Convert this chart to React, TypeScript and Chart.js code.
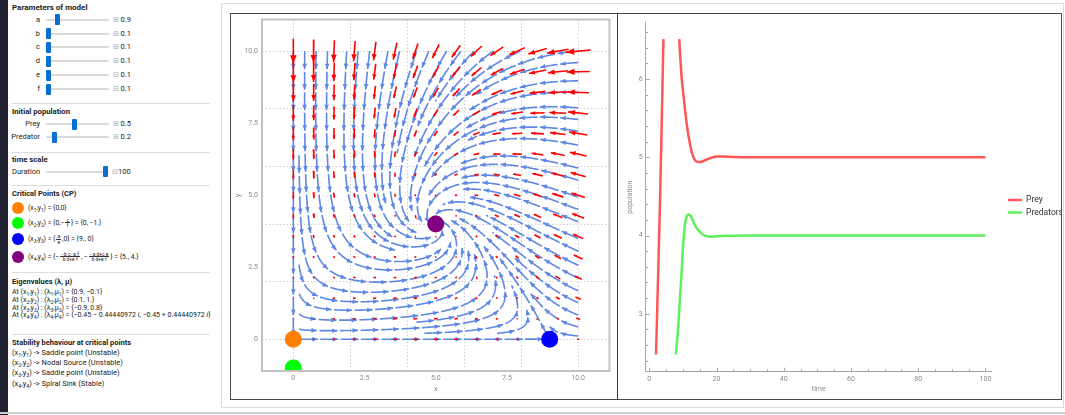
import React, { useEffect, useRef } from "react";
import { Chart, registerables } from "chart.js";
Chart.register(...registerables);

// ---------------- data ----------------
// model parameters (slider values)
const paramNames = ["a", "b", "c", "d", "e", "f"];
const paramValues = [0.9, 0.1, 0.1, 0.1, 0.1, 0.1];
const paramRange = [0.1, 5];
const populationNames = ["Prey", "Predator"];
const populationValues = [0.5, 0.2];
const populationRange = [0.1, 1];
const durationValue = 100;
const durationRange = [10, 100];

// critical points
const criticalX = [0, 0, 9, 5];
const criticalY = [0, -1, 0, 4];
const criticalColors = ["#ff8000", "#00ff00", "#0000ff", "#800080"];

// phase plot axes
const phaseMin = -1.1;
const phaseMax = 11.1;
const phaseTickValues = [0, 2.5, 5, 7.5, 10];
const phaseTickLabels = ["0", "2.5", "5.0", "7.5", "10.0"];
const phaseGridValues = [0, 2, 4, 6, 8, 10];
const vectorPointsPerSide = 15;
const vectorScale = 0.079;
const streamSeparation = 0.4;
const streamSeeds = [
  [0, 5],
  [5, 0],
  [9.6, 0],
  [5, 8],
];

// time series
const preyRiseT = [2.0, 2.6, 3.2, 3.7, 4.2];
const preyRiseY = [2.48, 3.45, 4.45, 5.45, 6.51];
const preyFallT = [8.9, 9.6, 10.1, 10.6, 11.1, 11.6, 12.1, 12.6, 13.5, 14.3, 15.2, 16.2, 17.3, 18.5, 20.0, 22.0, 25.0, 30.0, 40.0, 60.0, 80.0, 100.0];
const preyFallY = [6.51, 6.03, 5.82, 5.62, 5.44, 5.29, 5.17, 5.07, 4.97, 4.94, 4.94, 4.955, 4.975, 4.995, 5.01, 5.01, 5.005, 5.0, 5.0, 5.0, 5.0, 5.0];
const predT = [7.9, 8.6, 9.1, 9.6, 10.1, 10.6, 11.1, 11.6, 12.1, 12.6, 13.3, 14.0, 15.0, 16.0, 17.3, 18.5, 20.0, 23.0, 30.0, 50.0, 100.0];
const predY = [2.48, 2.84, 3.18, 3.52, 3.9, 4.14, 4.24, 4.27, 4.26, 4.23, 4.16, 4.1, 4.05, 4.01, 3.99, 3.985, 3.99, 3.997, 4.0, 4.0, 4.0];
const timeTickValues = [0, 20, 40, 60, 80, 100];
const timeMinorTicks = [5, 10, 15, 25, 30, 35, 45, 50, 55, 65, 70, 75, 85, 90, 95];
const popTickValues = [3, 4, 5, 6];
const popMinorTicks = [2.4, 2.6, 2.8, 3.2, 3.4, 3.6, 3.8, 4.2, 4.4, 4.6, 4.8, 5.2, 5.4, 5.6, 5.8, 6.2, 6.4, 6.6];

// ---------------- styles ----------------
const FONT = "Roboto, 'Open Sans', sans-serif";
const STREAM_COLOR = "#5f87e4";
const DASH_LEN = 18;
const DASH_GAP = 2.5;
Chart.defaults.font.family = FONT;

type P = { x: number; y: number };

function field(x: number, y: number): [number, number] {
  const [a, b, c, d, e, f] = paramValues;
  return [x * (a - e * x - b * y), y * (-c + d * x - f * y)];
}

function computeStreamlines(): P[][] {
  const X0 = 0, X1 = 10, Y0 = 0, Y1 = 10;
  const dsep = streamSeparation;
  const dtest = dsep * 0.5;
  const h = 0.025;
  const cs = dtest;
  const nx = Math.ceil((X1 - X0) / cs) + 2;
  const ny = nx;
  const buckets: number[][] = new Array(nx * ny);
  const PX: number[] = [], PY: number[] = [], PL: number[] = [], PS: number[] = [];
  const dead = new Set<number>();
  const selfGap = Math.ceil((1.6 * dtest) / h);
  const bucketOf = (x: number, y: number) => {
    const i = Math.max(0, Math.min(nx - 1, Math.floor((x - X0) / cs)));
    const j = Math.max(0, Math.min(ny - 1, Math.floor((y - Y0) / cs)));
    return [i, j];
  };
  const add = (x: number, y: number, l: number, s: number) => {
    const [i, j] = bucketOf(x, y);
    const k = j * nx + i;
    (buckets[k] || (buckets[k] = [])).push(PX.length);
    PX.push(x); PY.push(y); PL.push(l); PS.push(s);
  };
  const close = (x: number, y: number, r: number, l: number, s: number) => {
    const [i, j] = bucketOf(x, y);
    const rr = Math.ceil(r / cs);
    const r2 = r * r;
    for (let jj = j - rr; jj <= j + rr; jj++) {
      if (jj < 0 || jj >= ny) continue;
      for (let ii = i - rr; ii <= i + rr; ii++) {
        if (ii < 0 || ii >= nx) continue;
        const bk = buckets[jj * nx + ii];
        if (!bk) continue;
        for (const idx of bk) {
          const pl = PL[idx];
          if (dead.has(pl)) continue;
          if (pl === l && Math.abs(PS[idx] - s) < selfGap) continue;
          const dx = PX[idx] - x, dy = PY[idx] - y;
          if (dx * dx + dy * dy < r2) return true;
        }
      }
    }
    return false;
  };
  const dirAt = (x: number, y: number) => {
    const [u, v] = field(x, y);
    const m = Math.hypot(u, v);
    if (m < 1e-7) return null;
    return [u / m, v / m];
  };
  const inside = (x: number, y: number) => x >= X0 - 1e-9 && x <= X1 + 1e-9 && y >= Y0 - 1e-9 && y <= Y1 + 1e-9;
  const lines: (P[] | null)[] = [];
  const trace = (sx: number, sy: number, id: number): P[] => {
    const parts: P[][] = [[], []];
    add(sx, sy, id, 0);
    [1, -1].forEach((dir, pi) => {
      let x = sx, y = sy, pdx = 0, pdy = 0;
      for (let st = 1; st < 1600; st++) {
        const k1 = dirAt(x, y);
        if (!k1) break;
        const mx = x + dir * h * 0.5 * k1[0], my = y + dir * h * 0.5 * k1[1];
        const k2 = dirAt(mx, my);
        if (!k2) break;
        let nx2 = x + dir * h * k2[0], ny2 = y + dir * h * k2[1];
        const dx = nx2 - x, dy = ny2 - y;
        if (pdx * dx + pdy * dy < 0) break;
        if (!inside(nx2, ny2)) {
          let t = 1;
          if (nx2 < X0) t = Math.min(t, (X0 - x) / dx);
          if (nx2 > X1) t = Math.min(t, (X1 - x) / dx);
          if (ny2 < Y0) t = Math.min(t, (Y0 - y) / dy);
          if (ny2 > Y1) t = Math.min(t, (Y1 - y) / dy);
          if (t > 0.01) parts[pi].push({ x: x + dx * t, y: y + dy * t });
          break;
        }
        const s = dir * st;
        if (close(nx2, ny2, dtest, id, s)) break;
        parts[pi].push({ x: nx2, y: ny2 });
        add(nx2, ny2, id, s);
        pdx = dx; pdy = dy; x = nx2; y = ny2;
      }
    });
    return [...parts[1].reverse(), { x: sx, y: sy }, ...parts[0]];
  };
  const queue: P[][] = [];
  const tryLine = (sx: number, sy: number) => {
    if (!inside(sx, sy)) return;
    if (close(sx, sy, dsep * 0.98, -1, 0)) return;
    const id = lines.length;
    const pts = trace(sx, sy, id);
    let len = 0;
    for (let i = 1; i < pts.length; i++) len += Math.hypot(pts[i].x - pts[i - 1].x, pts[i].y - pts[i - 1].y);
    if (len < 0.35) {
      dead.add(id);
      lines.push(null);
      return;
    }
    lines.push(pts);
    queue.push(pts);
  };
  const flush = () => {
    while (queue.length) {
      const L = queue.shift() as P[];
      for (let i = 0; i < L.length; i += 3) {
        const p = L[i], q = L[Math.min(i + 1, L.length - 1)], r = L[Math.max(i - 1, 0)];
        let tx = q.x - r.x, ty = q.y - r.y;
        const tm = Math.hypot(tx, ty);
        if (tm === 0) continue;
        tx /= tm; ty /= tm;
        tryLine(p.x - ty * dsep, p.y + tx * dsep);
        tryLine(p.x + ty * dsep, p.y - tx * dsep);
      }
    }
  };
  streamSeeds.forEach(([sx, sy]) => { tryLine(sx, sy); flush(); });
  for (let gy = 0; gy <= 10 + 1e-9; gy += dsep / 2) {
    for (let gx = 0; gx <= 10 + 1e-9; gx += dsep / 2) {
      tryLine(gx, gy);
      flush();
    }
  }
  return lines.filter((l) => l) as P[][];
}

function computeVectors(): P[][] {
  const out: P[][] = [];
  for (let i = 0; i < vectorPointsPerSide; i++) {
    for (let j = 0; j < vectorPointsPerSide; j++) {
      const x = (i * 10) / (vectorPointsPerSide - 1);
      const y = (j * 10) / (vectorPointsPerSide - 1);
      const [u, v] = field(x, y);
      out.push([
        { x: x - (u * vectorScale) / 2, y: y - (v * vectorScale) / 2 },
        { x: x + (u * vectorScale) / 2, y: y + (v * vectorScale) / 2 },
      ]);
    }
  }
  return out;
}

function drawHead(ctx: CanvasRenderingContext2D, x: number, y: number, ux: number, uy: number, hl: number, hw: number) {
  const bx = x - ux * hl, by = y - uy * hl;
  ctx.beginPath();
  ctx.moveTo(x, y);
  ctx.lineTo(bx - uy * hw, by + ux * hw);
  ctx.lineTo(bx + uy * hw, by - ux * hw);
  ctx.closePath();
  ctx.fill();
}

const arrowPlugin = {
  id: "arrowHeads",
  afterDatasetDraw(chart: any, args: any) {
    const ds = chart.data.datasets[args.index];
    if (!ds.kind || ds.kind === "cp") return;
    const pts = args.meta.data;
    const ctx: CanvasRenderingContext2D = chart.ctx;
    const area = chart.chartArea;
    ctx.save();
    ctx.beginPath();
    ctx.rect(area.left, area.top, area.right - area.left, area.bottom - area.top);
    ctx.clip();
    ctx.fillStyle = ds.borderColor;
    if (ds.kind === "vec") {
      const p0 = pts[0], p1 = pts[1];
      const dx = p1.x - p0.x, dy = p1.y - p0.y;
      const L = Math.hypot(dx, dy);
      if (L > 3) drawHead(ctx, p1.x, p1.y, dx / L, dy / L, L * 0.34, L * 0.13);
    } else {
      const period = DASH_LEN + DASH_GAP;
      let next = DASH_LEN;
      let acc = 0;
      let lux = 0, luy = 0;
      for (let i = 1; i < pts.length; i++) {
        const a = pts[i - 1], b = pts[i];
        const seg = Math.hypot(b.x - a.x, b.y - a.y);
        if (seg === 0) continue;
        const ux = (b.x - a.x) / seg, uy = (b.y - a.y) / seg;
        lux = ux; luy = uy;
        while (acc + seg >= next) {
          const t = (next - acc) / seg;
          drawHead(ctx, a.x + (b.x - a.x) * t, a.y + (b.y - a.y) * t, ux, uy, 5.5, 2.3);
          next += period;
        }
        acc += seg;
      }
      const remaining = acc - (next - period);
      if (remaining > 7 && pts.length > 1) {
        const last = pts[pts.length - 1];
        drawHead(ctx, last.x, last.y, lux, luy, 5.5, 2.3);
      }
    }
    ctx.restore();
  },
};

const framePlugin = {
  id: "frame",
  afterDraw(chart: any) {
    const { ctx, chartArea: a } = chart;
    ctx.save();
    ctx.strokeStyle = "#c2c2c2";
    ctx.lineWidth = 2;
    ctx.strokeRect(a.left, a.top, a.right - a.left, a.bottom - a.top);
    ctx.restore();
  },
};

function PhaseChart() {
  const ref = useRef<HTMLCanvasElement>(null);
  useEffect(() => {
    const streams = computeStreamlines();
    const vecs = computeVectors();
    const datasets: any[] = [];
    datasets.push({
      kind: "cp",
      data: criticalX.map((x, i) => ({ x, y: criticalY[i] })),
      pointRadius: 8.5,
      pointHoverRadius: 8.5,
      backgroundColor: criticalColors,
      borderWidth: 0,
    });
    vecs.forEach((v) =>
      datasets.push({ kind: "vec", data: v, showLine: true, pointRadius: 0, borderColor: "#ff0000", borderWidth: 1.6 })
    );
    streams.forEach((l) =>
      datasets.push({
        kind: "stream",
        data: l,
        showLine: true,
        pointRadius: 0,
        borderColor: STREAM_COLOR,
        borderWidth: 1.6,
        borderDash: [DASH_LEN, DASH_GAP],
      })
    );
    const allTicks = [phaseMin, ...Array.from(new Set([...phaseTickValues, ...phaseGridValues])).sort((p, q) => p - q), phaseMax];
    const tickLabel = (v: any) => {
      const i = phaseTickValues.indexOf(Number(v));
      return i >= 0 ? phaseTickLabels[i] : "";
    };
    const gridColor = (c: any) => (c.tick && phaseGridValues.includes(c.tick.value) ? "#cfcfcf" : "rgba(0,0,0,0)");
    const chart = new Chart(ref.current as HTMLCanvasElement, {
      type: "scatter",
      data: { datasets },
      plugins: [arrowPlugin, framePlugin],
      options: {
        animation: false,
        responsive: false,
        events: [],
        layout: { padding: { top: 5, right: 3, left: 0, bottom: 0 } },
        plugins: { legend: { display: false }, tooltip: { enabled: false } },
        scales: {
          x: {
            type: "linear",
            min: phaseMin,
            max: phaseMax,
            afterBuildTicks: (s: any) => { s.ticks = allTicks.map((v) => ({ value: v })); },
            afterFit: (s: any) => { s.height = 27; },
            ticks: { autoSkip: false, maxRotation: 0, padding: 3, color: "#8a8a8a", font: { size: 7 }, callback: tickLabel },
            grid: { color: gridColor, lineWidth: 1, drawTicks: false },
            border: { display: false, dash: [1.5, 2] },
            title: { display: true, text: "x", color: "#8a8a8a", font: { size: 7 }, padding: { top: 0, bottom: 4.8 } },
          },
          y: {
            type: "linear",
            min: phaseMin,
            max: phaseMax,
            afterBuildTicks: (s: any) => { s.ticks = allTicks.map((v) => ({ value: v })); },
            afterFit: (s: any) => { s.width = 31; },
            ticks: { autoSkip: false, padding: 4, color: "#8a8a8a", font: { size: 7 }, callback: tickLabel },
            grid: { color: gridColor, lineWidth: 1, drawTicks: false },
            border: { display: false, dash: [1.5, 2] },
            title: { display: true, text: "y", color: "#8a8a8a", font: { size: 7 }, padding: { top: 2.8, bottom: 0 } },
          },
        },
      } as any,
    });
    return () => chart.destroy();
  }, []);
  return <canvas ref={ref} width={387} height={387} style={{ position: "absolute", left: 231, top: 11, width: 387, height: 387 }} />;
}

const axisTickPlugin = {
  id: "inwardTicks",
  afterDraw(chart: any) {
    const { ctx, chartArea: a, scales } = chart;
    ctx.save();
    ctx.strokeStyle = "#a8a8a8";
    ctx.lineWidth = 1;
    const xs = scales.x, ys = scales.y;
    const drawX = (v: number, len: number) => {
      const px = Math.round(xs.getPixelForValue(v)) + 0.5;
      ctx.beginPath(); ctx.moveTo(px, a.bottom); ctx.lineTo(px, a.bottom - len); ctx.stroke();
    };
    const drawY = (v: number, len: number) => {
      const py = Math.round(ys.getPixelForValue(v)) + 0.5;
      ctx.beginPath(); ctx.moveTo(a.left, py); ctx.lineTo(a.left + len, py); ctx.stroke();
    };
    timeTickValues.forEach((v) => drawX(v, 4));
    timeMinorTicks.forEach((v) => drawX(v, 2.5));
    popTickValues.forEach((v) => drawY(v, 4));
    popMinorTicks.forEach((v) => drawY(v, 2.5));
    ctx.restore();
  },
};

const LEGEND_OFFSET_X = 12;
const LEGEND_OFFSET_Y = -4;
const legendPlacePlugin = {
  id: "legendPlace",
  afterLayout(chart: any) {
    const lg = chart.legend;
    if (!lg) return;
    const w = lg.width;
    lg.left = chart.chartArea.right + LEGEND_OFFSET_X;
    lg.right = lg.left + w;
    lg.top += LEGEND_OFFSET_Y;
    lg.bottom += LEGEND_OFFSET_Y;
  },
};

function TimeChart() {
  const ref = useRef<HTMLCanvasElement>(null);
  useEffect(() => {
    const prey = [
      ...preyRiseT.map((t, i) => ({ x: t, y: preyRiseY[i] as number | null })),
      { x: (preyRiseT[preyRiseT.length - 1] + preyFallT[0]) / 2, y: null },
      ...preyFallT.map((t, i) => ({ x: t, y: preyFallY[i] as number | null })),
    ];
    const pred = predT.map((t, i) => ({ x: t, y: predY[i] }));
    const chart = new Chart(ref.current as HTMLCanvasElement, {
      type: "line",
      data: {
        datasets: [
          { label: "Prey", data: prey, borderColor: "#ff5757", backgroundColor: "#ff5757", borderWidth: 2.5, pointRadius: 0, cubicInterpolationMode: "monotone", fill: false },
          { label: "Predators", data: pred, borderColor: "#5cf05c", backgroundColor: "#5cf05c", borderWidth: 2.5, pointRadius: 0, cubicInterpolationMode: "monotone", fill: false },
        ],
      },
      plugins: [axisTickPlugin, legendPlacePlugin],
      options: {
        animation: false,
        responsive: false,
        events: [],
        layout: { padding: { top: 8.7, right: 0, left: 0, bottom: 0 } },
        plugins: {
          tooltip: { enabled: false },
          legend: {
            position: "right",
            labels: { usePointStyle: true, pointStyle: "line", pointStyleWidth: 14, padding: 4, color: "#333", font: { size: 8.5, lineHeight: 1.3 } },
          },
        },
        scales: {
          x: {
            type: "linear",
            min: -1.07,
            max: 101.9,
            afterBuildTicks: (s: any) => { s.ticks = timeTickValues.map((v) => ({ value: v })); },
            afterFit: (s: any) => { s.height = 26.3; },
            ticks: { autoSkip: false, maxRotation: 0, padding: 3, color: "#8a8a8a", font: { size: 7 } },
            grid: { display: false, drawTicks: false },
            border: { display: true, color: "#a8a8a8", width: 1 },
            title: { display: true, text: "time", color: "#8a8a8a", font: { size: 7 }, padding: { top: 0, bottom: 4.8 } },
          },
          y: {
            type: "linear",
            min: 2.26,
            max: 6.72,
            afterBuildTicks: (s: any) => { s.ticks = popTickValues.map((v) => ({ value: v })); },
            afterFit: (s: any) => { s.width = 27.7; },
            ticks: { autoSkip: false, padding: 3, color: "#8a8a8a", font: { size: 7 } },
            grid: { display: false, drawTicks: false },
            border: { display: true, color: "#a8a8a8", width: 1 },
            title: { display: true, text: "population", color: "#8a8a8a", font: { size: 7 }, padding: { top: 7.8, bottom: 0 } },
          },
        },
      } as any,
    });
    return () => chart.destroy();
  }, []);
  return <canvas ref={ref} width={443} height={384} style={{ position: "absolute", left: 618, top: 14, width: 443, height: 384 }} />;
}

// ---------------- left panel ----------------
const PANEL_W = 220;
const textBase: React.CSSProperties = { position: "absolute", whiteSpace: "nowrap", lineHeight: "10px", color: "#222", fontFamily: FONT };

function T({ x, y, size = 7, bold = false, right, children, style }: any) {
  const s: React.CSSProperties = { ...textBase, top: y - 5, fontSize: size, fontWeight: bold ? 700 : 400, ...(style || {}) };
  if (right !== undefined) {
    s.right = PANEL_W - right;
  } else s.left = x;
  return <div style={s}>{children}</div>;
}

function Sb({ children }: any) {
  return <span style={{ fontSize: "0.7em", verticalAlign: "-0.35em", lineHeight: 0 }}>{children}</span>;
}

function Frac({ n, d }: any) {
  return (
    <span style={{ display: "inline-flex", flexDirection: "column", alignItems: "center", verticalAlign: "middle", fontSize: "0.72em", lineHeight: "0.95em", margin: "0 1px" }}>
      <span style={{ borderBottom: "0.6px solid #333", padding: "0 1px" }}>{n}</span>
      <span>{d}</span>
    </span>
  );
}

function Slider({ y, frac }: { y: number; frac: number }) {
  return (
    <>
      <div style={{ position: "absolute", left: 46, top: y - 1, width: 63, height: 2, background: "#dadada", borderRadius: 1 }} />
      <div style={{ position: "absolute", left: 46 + frac * 58, top: y - 5.5, width: 5, height: 11, background: "#0c6fd4", borderRadius: 1 }} />
    </>
  );
}

function Sep({ y }: { y: number }) {
  return <div style={{ position: "absolute", left: 12, top: y, width: 198, height: 1, background: "#dcdcdc" }} />;
}

const paramRowY = [19.5, 33.5, 47.3, 61.3, 75.3, 89.3];
const popRowY = [124, 137];
const cpRowY = [208.3, 222.7, 239.3, 256.7];
const eigenRowY = [292.3, 300, 307.7, 315.2];
const stabRowY = [353.3, 363.3, 373.3, 383.5];

function LeftPanel() {
  const fr = (v: number, r: number[]) => (v - r[0]) / (r[1] - r[0]);
  const pair = (k: number) => (
    <>
      (x<Sb>{k}</Sb>,y<Sb>{k}</Sb>)
    </>
  );
  return (
    <div style={{ position: "absolute", left: 0, top: 0, width: PANEL_W, height: 415, overflow: "hidden" }}>
      <div style={{ position: "absolute", left: 0, top: 0, width: 8, height: 415, background: "#1f2130" }} />
      <T x={12} y={8} bold size={8}>Parameters of model</T>
      {paramNames.map((n, i) => (
        <React.Fragment key={n}>
          <T right={40} y={paramRowY[i]} size={7.5}>{n}</T>
          <Slider y={paramRowY[i]} frac={fr(paramValues[i], paramRange)} />
          <T x={112.5} y={paramRowY[i]} size={6.5} style={{ color: "#aaa" }}>{i < 4 ? "⊞" : "⊟"}</T>
          <T x={120.5} y={paramRowY[i]} size={7.5}>{String(paramValues[i])}</T>
        </React.Fragment>
      ))}
      <Sep y={103} />
      <T x={12} y={112} bold size={7.7}>Initial population</T>
      {populationNames.map((n, i) => (
        <React.Fragment key={n}>
          <T right={40} y={popRowY[i]} size={7.5}>{n}</T>
          <Slider y={popRowY[i]} frac={fr(populationValues[i], populationRange)} />
          <T x={112.5} y={popRowY[i]} size={6.5} style={{ color: "#aaa" }}>⊞</T>
          <T x={120.5} y={popRowY[i]} size={7.5}>{String(populationValues[i])}</T>
        </React.Fragment>
      ))}
      <Sep y={151.5} />
      <T x={12} y={160} bold size={7.7}>time scale</T>
      <T x={12} y={171.5} size={7.5}>Duration</T>
      <Slider y={171.5} frac={fr(durationValue, durationRange) * 0.98} />
      <T x={111.5} y={171.5} size={6.5} style={{ color: "#aaa" }}>⊟</T>
      <T x={118} y={171.5} size={7.5}>{String(durationValue)}</T>
      <Sep y={185} />
      <T x={12} y={194.3} bold size={7.5}>Critical Points (CP)</T>
      {criticalColors.map((c, i) => (
        <div key={c} style={{ position: "absolute", left: 12, top: cpRowY[i] - 6, width: 12, height: 12, borderRadius: 6, background: c }} />
      ))}
      <T x={28} y={cpRowY[0]} size={6.8}>{pair(1)} = {"{0,0}"}</T>
      <T x={28} y={cpRowY[1]} size={6.8}>
        {pair(2)} = {"{0,−"}<Frac n="c" d="f" />{"} = {0, −1.}"}
      </T>
      <T x={28} y={cpRowY[2]} size={6.8}>
        {pair(3)} = {"{"}<Frac n="a" d="e" />{",0} = {9., 0}"}
      </T>
      <T x={28} y={cpRowY[3]} size={6.8}>
        {pair(4)} = {"{−"}<Frac n="−b c−a f" d="b d+e f" />{", −"}<Frac n="−a d+c e" d="b d+e f" />{"} = {5., 4.}"}
      </T>
      <Sep y={271.7} />
      <T x={12} y={282.3} bold size={7.5}>Eigenvalues (λ, μ)</T>
      <T x={12} y={eigenRowY[0]} size={7}>At {pair(1)} :  (λ<Sb>1</Sb>,μ<Sb>1</Sb>) = {"{0.9, −0.1}"}</T>
      <T x={12} y={eigenRowY[1]} size={7}>At {pair(2)} :  (λ<Sb>2</Sb>,μ<Sb>2</Sb>) = {"{0.1, 1.}"}</T>
      <T x={12} y={eigenRowY[2]} size={7}>At {pair(3)} :  (λ<Sb>3</Sb>,μ<Sb>3</Sb>) = {"{−0.9, 0.8}"}</T>
      <T x={12} y={eigenRowY[3]} size={7}>
        At {pair(4)} :  (λ<Sb>4</Sb>,μ<Sb>4</Sb>) = {"{−0.45 − 0.44440972 "}<i>i</i>{", −0.45 + 0.44440972 "}<i>i</i>{"}"}
      </T>
      <Sep y={334} />
      <T x={12} y={343.3} bold size={7.5}>Stability behaviour at critical points</T>
      <T x={12} y={stabRowY[0]} size={7.5}>{pair(1)} -&gt; Saddle point (Unstable)</T>
      <T x={12} y={stabRowY[1]} size={7.5}>{pair(2)} -&gt; Nodal Source (Unstable)</T>
      <T x={12} y={stabRowY[2]} size={7.5}>{pair(3)} -&gt; Saddle point (Unstable)</T>
      <T x={12} y={stabRowY[3]} size={7.5}>{pair(4)} -&gt; Spiral Sink (Stable)</T>
    </div>
  );
}

export default function App() {
  return (
    <div style={{ position: "fixed", left: 0, top: 0, width: 1065, height: 415, background: "#fff", overflow: "hidden", fontFamily: FONT }}>
      <LeftPanel />
      <div style={{ position: "absolute", left: 221, top: 3, width: 843, height: 405, border: "1px solid #dcdcdc", boxSizing: "border-box" }} />
      <div style={{ position: "absolute", left: 0, top: 412, width: 1065, height: 2, background: "#d0d0d0" }} />
      <div style={{ position: "absolute", left: 230, top: 13, width: 832, height: 387, border: "1.5px solid #4a4a4a", boxSizing: "border-box" }} />
      <div style={{ position: "absolute", left: 616.5, top: 13, width: 1.5, height: 387, background: "#3a3a3a" }} />
      <PhaseChart />
      <TimeChart />
    </div>
  );
}
